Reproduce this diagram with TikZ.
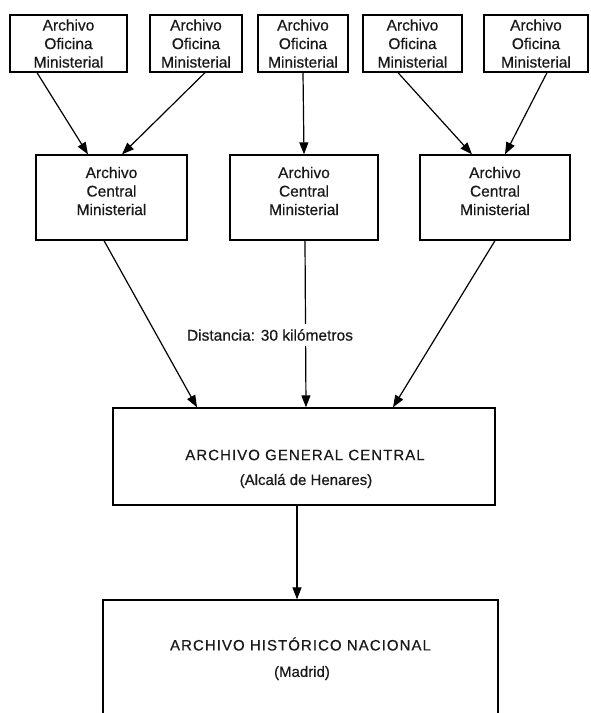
\documentclass[tikz,border=0pt]{standalone}
\usepackage{fontspec}
\setmainfont[FakeBold=0.6]{Liberation Sans}
\newfontfamily\capsfont[LetterSpace=7,FakeBold=0.6]{Liberation Sans}
\usetikzlibrary{arrows.meta}
\begin{document}
\begin{tikzpicture}[x=1pt,y=-1pt,
  box/.style={draw, line width=1.3pt, rectangle, inner sep=0pt},
  txt/.style={align=center, inner sep=0pt, text=black!90, font=\fontsize{15.5}{18.5}\selectfont},
  bigtxt/.style={align=center, inner sep=0pt, text=black!90, font=\fontsize{15}{18}\selectfont},
  arr/.style={line width=1.2pt, -{Triangle[length=12pt,width=9pt]}},
]
\useasboundingbox (0,0) rectangle (590,713);
\clip (0,0) rectangle (590,713);

% top row
\node[box, txt, minimum width=117pt, minimum height=57pt] (b1) at (68.5,43.5) {Archivo\\Oficina\\Ministerial};
\node[box, txt, minimum width=92pt, minimum height=57pt] (b2) at (196,43.5) {Archivo\\Oficina\\Ministerial};
\node[box, txt, minimum width=90pt, minimum height=57pt] (b3) at (303,43.5) {Archivo\\Oficina\\Ministerial};
\node[box, txt, minimum width=99pt, minimum height=57pt] (b4) at (412.5,43.5) {Archivo\\Oficina\\Ministerial};
\node[box, txt, minimum width=104pt, minimum height=57pt] (b5) at (536,43.5) {Archivo\\Oficina\\Ministerial};

% middle row
\node[box, minimum width=151pt, minimum height=85pt] (c1) at (111.5,197.5) {};
\node[box, minimum width=148pt, minimum height=85pt] (c2) at (304,197.5) {};
\node[box, minimum width=150pt, minimum height=85pt] (c3) at (495,197.5) {};
\node[txt] (t1) at (111.5,191) {Archivo\\Central\\Ministerial};
\node[txt] (t2) at (304,191) {Archivo\\Central\\Ministerial};
\node[txt] (t3) at (495,191) {Archivo\\Central\\Ministerial};

% general central
\node[box, minimum width=382pt, minimum height=97pt] (d) at (304,456.5) {};
\node[bigtxt] (d1) at (305,455) {\capsfont ARCHIVO GENERAL CENTRAL};
\node[bigtxt] (d2) at (306,481) {(Alcalá de Henares)};

% historico nacional (bottom edge outside the picture)
\node[box, minimum width=395pt, minimum height=160pt] (e) at (300.5,680) {};
\node[bigtxt] (e1) at (300.5,644) {\capsfont ARCHIVO HISTÓRICO NACIONAL};
\node[bigtxt] (e2) at (302,673) {(Madrid)};

% arrows top -> middle
\draw[arr] (37,0 |- b1.south) -- (88,0 |- c1.north);
\draw[arr] (205,0 |- b2.south) -- (122,0 |- c1.north);
\draw[arr] (303,0 |- b3.south) -- (304,0 |- c2.north);
\draw[arr] (398,0 |- b4.south) -- (472,0 |- c3.north);
\draw[arr] (547,0 |- b5.south) -- (505,0 |- c3.north);

% arrows middle -> general
\draw[arr] (104,0 |- c1.south) -- (197,0 |- d.north);
\draw[arr] (305,0 |- c2.south) -- (306,0 |- d.north);
\draw[arr] (495,0 |- c3.south) -- (393,0 |- d.north);
\node[fill=white, inner xsep=2pt, inner ysep=5pt, text=black!90, font=\fontsize{15.5}{18}\selectfont] (dist) at (270,335) {Distancia: 30 kilómetros};

% general -> historico
\draw[arr] (297,0 |- d.south) -- (297,0 |- e.north);
\end{tikzpicture}
\end{document}
